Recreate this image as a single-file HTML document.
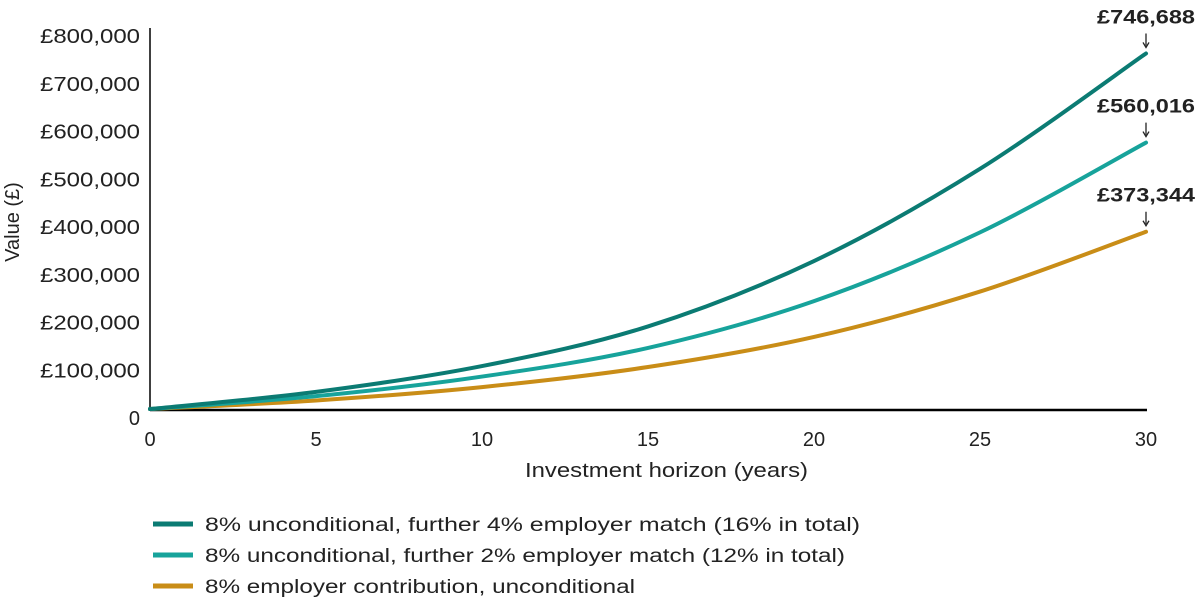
<!DOCTYPE html>
<html><head><meta charset="utf-8"><style>
body{margin:0;background:#fff;}
svg text{font-family:"Liberation Sans",sans-serif;fill:#222;}
</style></head><body>
<svg width="1201" height="601" viewBox="0 0 1201 601">
<g id="yticks"></g><g id="xticks"></g>
<line x1="150" y1="28" x2="150" y2="410" stroke="#000" stroke-width="1.5"/>
<line x1="150" y1="410" x2="1147" y2="410" stroke="#000" stroke-width="2.5"/>
<text x="525" y="477" font-size="20" textLength="283" lengthAdjust="spacingAndGlyphs">Investment horizon (years)</text>
<text transform="translate(19,222) rotate(-90)" font-size="20" text-anchor="middle">Value (£)</text>
<g id="series"></g><g id="ends"></g>
<g>
<g><line x1="153" y1="524" x2="193" y2="524" stroke="#0b7b73" stroke-width="5"/><text x="205" y="531" font-size="19" textLength="655" lengthAdjust="spacingAndGlyphs">8% unconditional, further 4% employer match (16% in total)</text></g>
<g><line x1="153" y1="555" x2="193" y2="555" stroke="#17a39b" stroke-width="5"/><text x="205" y="562" font-size="19" textLength="640" lengthAdjust="spacingAndGlyphs">8% unconditional, further 2% employer match (12% in total)</text></g>
<g><line x1="153" y1="586" x2="193" y2="586" stroke="#c98d17" stroke-width="5"/><text x="205" y="593" font-size="19" textLength="430" lengthAdjust="spacingAndGlyphs">8% employer contribution, unconditional</text></g>
</g>
</svg>
<script>
const years=[0,5,10,15,20,25,30];
const seriesHigh=[2000,38000,92000,175000,312000,505000,746688];
const seriesMid=[2000,29000,70000,130000,228000,372000,560016];
const seriesLow=[2000,20000,48000,90000,153000,248000,373344];
const yTickValues=[0,100000,200000,300000,400000,500000,600000,700000,800000];
const yTickLabels=["0","£100,000","£200,000","£300,000","£400,000","£500,000","£600,000","£700,000","£800,000"];
const xTickValues=[0,5,10,15,20,25,30];
const endLabels=["£746,688","£560,016","£373,344"];
const NS="http://www.w3.org/2000/svg";
const X=v=>150+v*(996/30);
const Y=v=>410-v*(382/800000);
function mk(t,a){const e=document.createElementNS(NS,t);for(const k in a)e.setAttribute(k,a[k]);return e;}
const yt=document.getElementById('yticks');
yTickValues.forEach((v,i)=>{const a={x:140,y:Y(v)+15,'font-size':20,'text-anchor':'end'};
if(yTickLabels[i].length>1){a.textLength=100;a.lengthAdjust='spacingAndGlyphs';}
const t=mk('text',a);


t.textContent=yTickLabels[i];yt.appendChild(t);});
const xt=document.getElementById('xticks');
xTickValues.forEach(v=>{const t=mk('text',{x:X(v),y:446,'font-size':20,'text-anchor':'middle'});


t.textContent=v;xt.appendChild(t);});
function path(vals){const p=years.map((x,i)=>[X(x),Y(vals[i])]);let d=`M${p[0][0]},${p[0][1]}`;
for(let i=0;i<p.length-1;i++){const p0=p[i-1]||p[i],p1=p[i],p2=p[i+1],p3=p[i+2]||p2;
d+=` C${p1[0]+(p2[0]-p0[0])/6},${p1[1]+(p2[1]-p0[1])/6} ${p2[0]-(p3[0]-p1[0])/6},${p2[1]-(p3[1]-p1[1])/6} ${p2[0]},${p2[1]}`;}return d;}
const sg=document.getElementById('series');
const eg=document.getElementById('ends');
[[seriesLow,'#c98d17','line-8pct'],[seriesMid,'#17a39b','line-12pct'],[seriesHigh,'#0b7b73','line-16pct']].forEach(([vals,c,n])=>{
const p=mk('path',{d:path(vals),fill:'none',stroke:c,'stroke-width':4,'stroke-linecap':'round'});


sg.appendChild(p);});
[seriesHigh,seriesMid,seriesLow].forEach((vals,i)=>{const v=vals[vals.length-1];const x=X(30),y=Y(v);
const t=mk('text',{x:1097,y:y-30,'font-size':19,'font-weight':'bold',textLength:98,lengthAdjust:'spacingAndGlyphs'});


t.textContent=endLabels[i];eg.appendChild(t);
const a=mk('path',{d:`M${x},${y-20}V${y-8}M${x-3},${y-11}L${x},${y-6}L${x+3},${y-11}`,stroke:'#222','stroke-width':1.3,fill:'none'});


eg.appendChild(a);});
</script>
</body></html>
